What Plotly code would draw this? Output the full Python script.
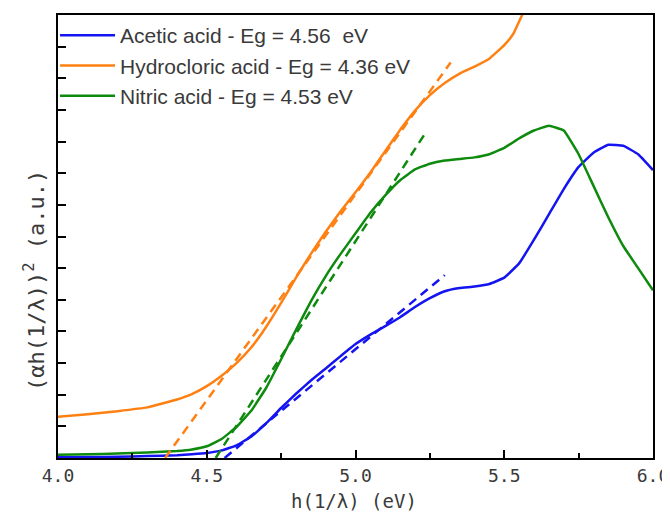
import plotly.graph_objects as go

# ---- data ----
energy = [4.0, 4.1, 4.2, 4.3, 4.4, 4.45, 4.5, 4.55, 4.6, 4.65, 4.7, 4.75, 4.8, 4.85, 4.9,
          4.95, 5.0, 5.05, 5.1, 5.15, 5.2, 5.25, 5.3, 5.35, 5.4, 5.45, 5.5, 5.55, 5.6,
          5.65, 5.7, 5.75, 5.8, 5.85, 5.9, 5.95, 6.0]

acetic = [0.02, 0.03, 0.04, 0.06, 0.09, 0.12, 0.16, 0.24, 0.4, 0.68, 1.1, 1.58, 2.03, 2.45, 2.83,
          3.22, 3.6, 3.9, 4.17, 4.45, 4.77, 5.05, 5.27, 5.37, 5.42, 5.5, 5.7, 6.15, 6.9,
          7.7, 8.5, 9.2, 9.65, 9.9, 9.87, 9.6, 9.1]

nitric = [0.1, 0.12, 0.14, 0.17, 0.22, 0.27, 0.37, 0.6, 0.98, 1.5, 2.22, 3.12, 4.05, 4.95, 5.75,
          6.45, 7.1, 7.75, 8.3, 8.78, 9.12, 9.3, 9.4, 9.45, 9.5, 9.6, 9.8, 10.1, 10.35,
          10.5, 10.35, 9.6, 8.6, 7.6, 6.7, 6.0, 5.3]

energy_hcl = [4.0, 4.1, 4.2, 4.3, 4.4, 4.45, 4.5, 4.55, 4.6, 4.65, 4.7, 4.75, 4.8, 4.85, 4.9,
              4.95, 5.0, 5.05, 5.1, 5.15, 5.2, 5.25, 5.3, 5.35, 5.4, 5.45, 5.5, 5.53, 5.56, 5.58]
hydrochloric = [1.3, 1.38, 1.48, 1.6, 1.85, 2.02, 2.27, 2.6, 3.0, 3.5, 4.15, 4.9, 5.7, 6.45, 7.15,
                7.8, 8.4, 9.02, 9.7, 10.37, 10.98, 11.47, 11.85, 12.15, 12.37, 12.62, 13.05, 13.4, 14.0, 14.4]

# tangent (Tauc) fits: [Eg, end energy], [0, end value]
fit_acetic_x = [4.56, 5.30]
fit_acetic_y = [0.0, 5.78]
fit_hcl_x = [4.36, 5.32]
fit_hcl_y = [0.0, 12.5]
fit_nitric_x = [4.53, 5.23]
fit_nitric_y = [0.0, 10.2]

names = ["Acetic acid - Eg = 4.56  eV", "Hydrocloric acid - Eg = 4.36 eV", "Nitric acid - Eg = 4.53 eV"]
x_ticks = [4.0, 4.5, 5.0, 5.5, 6.0]
x_tick_labels = ["4.0", "4.5", "5.0", "5.5", "6.0"]
x_title = "h(1/λ) (eV)"
y_title = "(αh(1/λ))<sup>2</sup> (a.u.)"

BLUE = "#1414f0"
ORANGE = "#ff8012"
GREEN = "#0e8a0e"
TXT = "#3a3a3a"
WIDE = "DejaVu Sans Mono"

fig = go.Figure()
fig.add_trace(go.Scatter(x=energy, y=acetic, mode="lines", name=names[0],
                         line=dict(color=BLUE, width=2.5, shape="spline", smoothing=0.3)))
fig.add_trace(go.Scatter(x=energy_hcl, y=hydrochloric, mode="lines", name=names[1],
                         line=dict(color=ORANGE, width=2.5, shape="spline", smoothing=0.3)))
fig.add_trace(go.Scatter(x=energy, y=nitric, mode="lines", name=names[2],
                         line=dict(color=GREEN, width=2.5, shape="spline", smoothing=0.3)))

for fx, fy, c in [(fit_acetic_x, fit_acetic_y, BLUE), (fit_hcl_x, fit_hcl_y, ORANGE),
                  (fit_nitric_x, fit_nitric_y, GREEN)]:
    fig.add_trace(go.Scatter(x=fx, y=fy, mode="lines", showlegend=False,
                             line=dict(color=c, width=2.5, dash="9px,6px")))

# page body has an 8px default margin, so the figure is 8px smaller each way
fig.update_layout(
    width=662, height=513,
    margin=dict(l=50, r=17, t=7, b=63, autoexpand=False),
    plot_bgcolor="white", paper_bgcolor="white",
    font=dict(family="Liberation Sans, Arial", color=TXT),
    showlegend=True,
    legend=dict(x=-0.005, y=1.0, xanchor="left", yanchor="top", bgcolor="rgba(0,0,0,0)",
                font=dict(size=21, color=TXT), tracegroupgap=0, itemwidth=55),
    annotations=[
        dict(text=x_title, xref="paper", yref="paper", x=0.497, y=-0.098,
             xanchor="center", yanchor="middle", showarrow=False,
             font=dict(size=19, color=TXT, family=WIDE)),
        dict(text=y_title, xref="paper", yref="paper", x=-0.04, y=0.40,
             xanchor="center", yanchor="middle", showarrow=False, textangle=-90,
             font=dict(size=22, color=TXT, family=WIDE)),
    ],
)
fig.update_xaxes(range=[4.0, 6.0], tickvals=x_ticks, ticktext=x_tick_labels,
                 ticks="inside", ticklen=8, tickwidth=1.5, tickcolor="black",
                 minor=dict(dtick=0.25, ticks="inside", ticklen=5, tickcolor="black", tickwidth=1.5),
                 showline=True, linecolor="black", linewidth=2, mirror=True,
                 showgrid=False, zeroline=False, automargin=False,
                 ticklabeloverflow="allow",
                 tickfont=dict(size=18, color=TXT, family=WIDE))
fig.update_yaxes(range=[0, 14], dtick=1, showticklabels=False,
                 ticks="inside", ticklen=8, tickwidth=1.5, tickcolor="black",
                 showline=True, linecolor="black", linewidth=2, mirror=True,
                 showgrid=False, zeroline=False, automargin=False)

fig.write_html("out.html")
